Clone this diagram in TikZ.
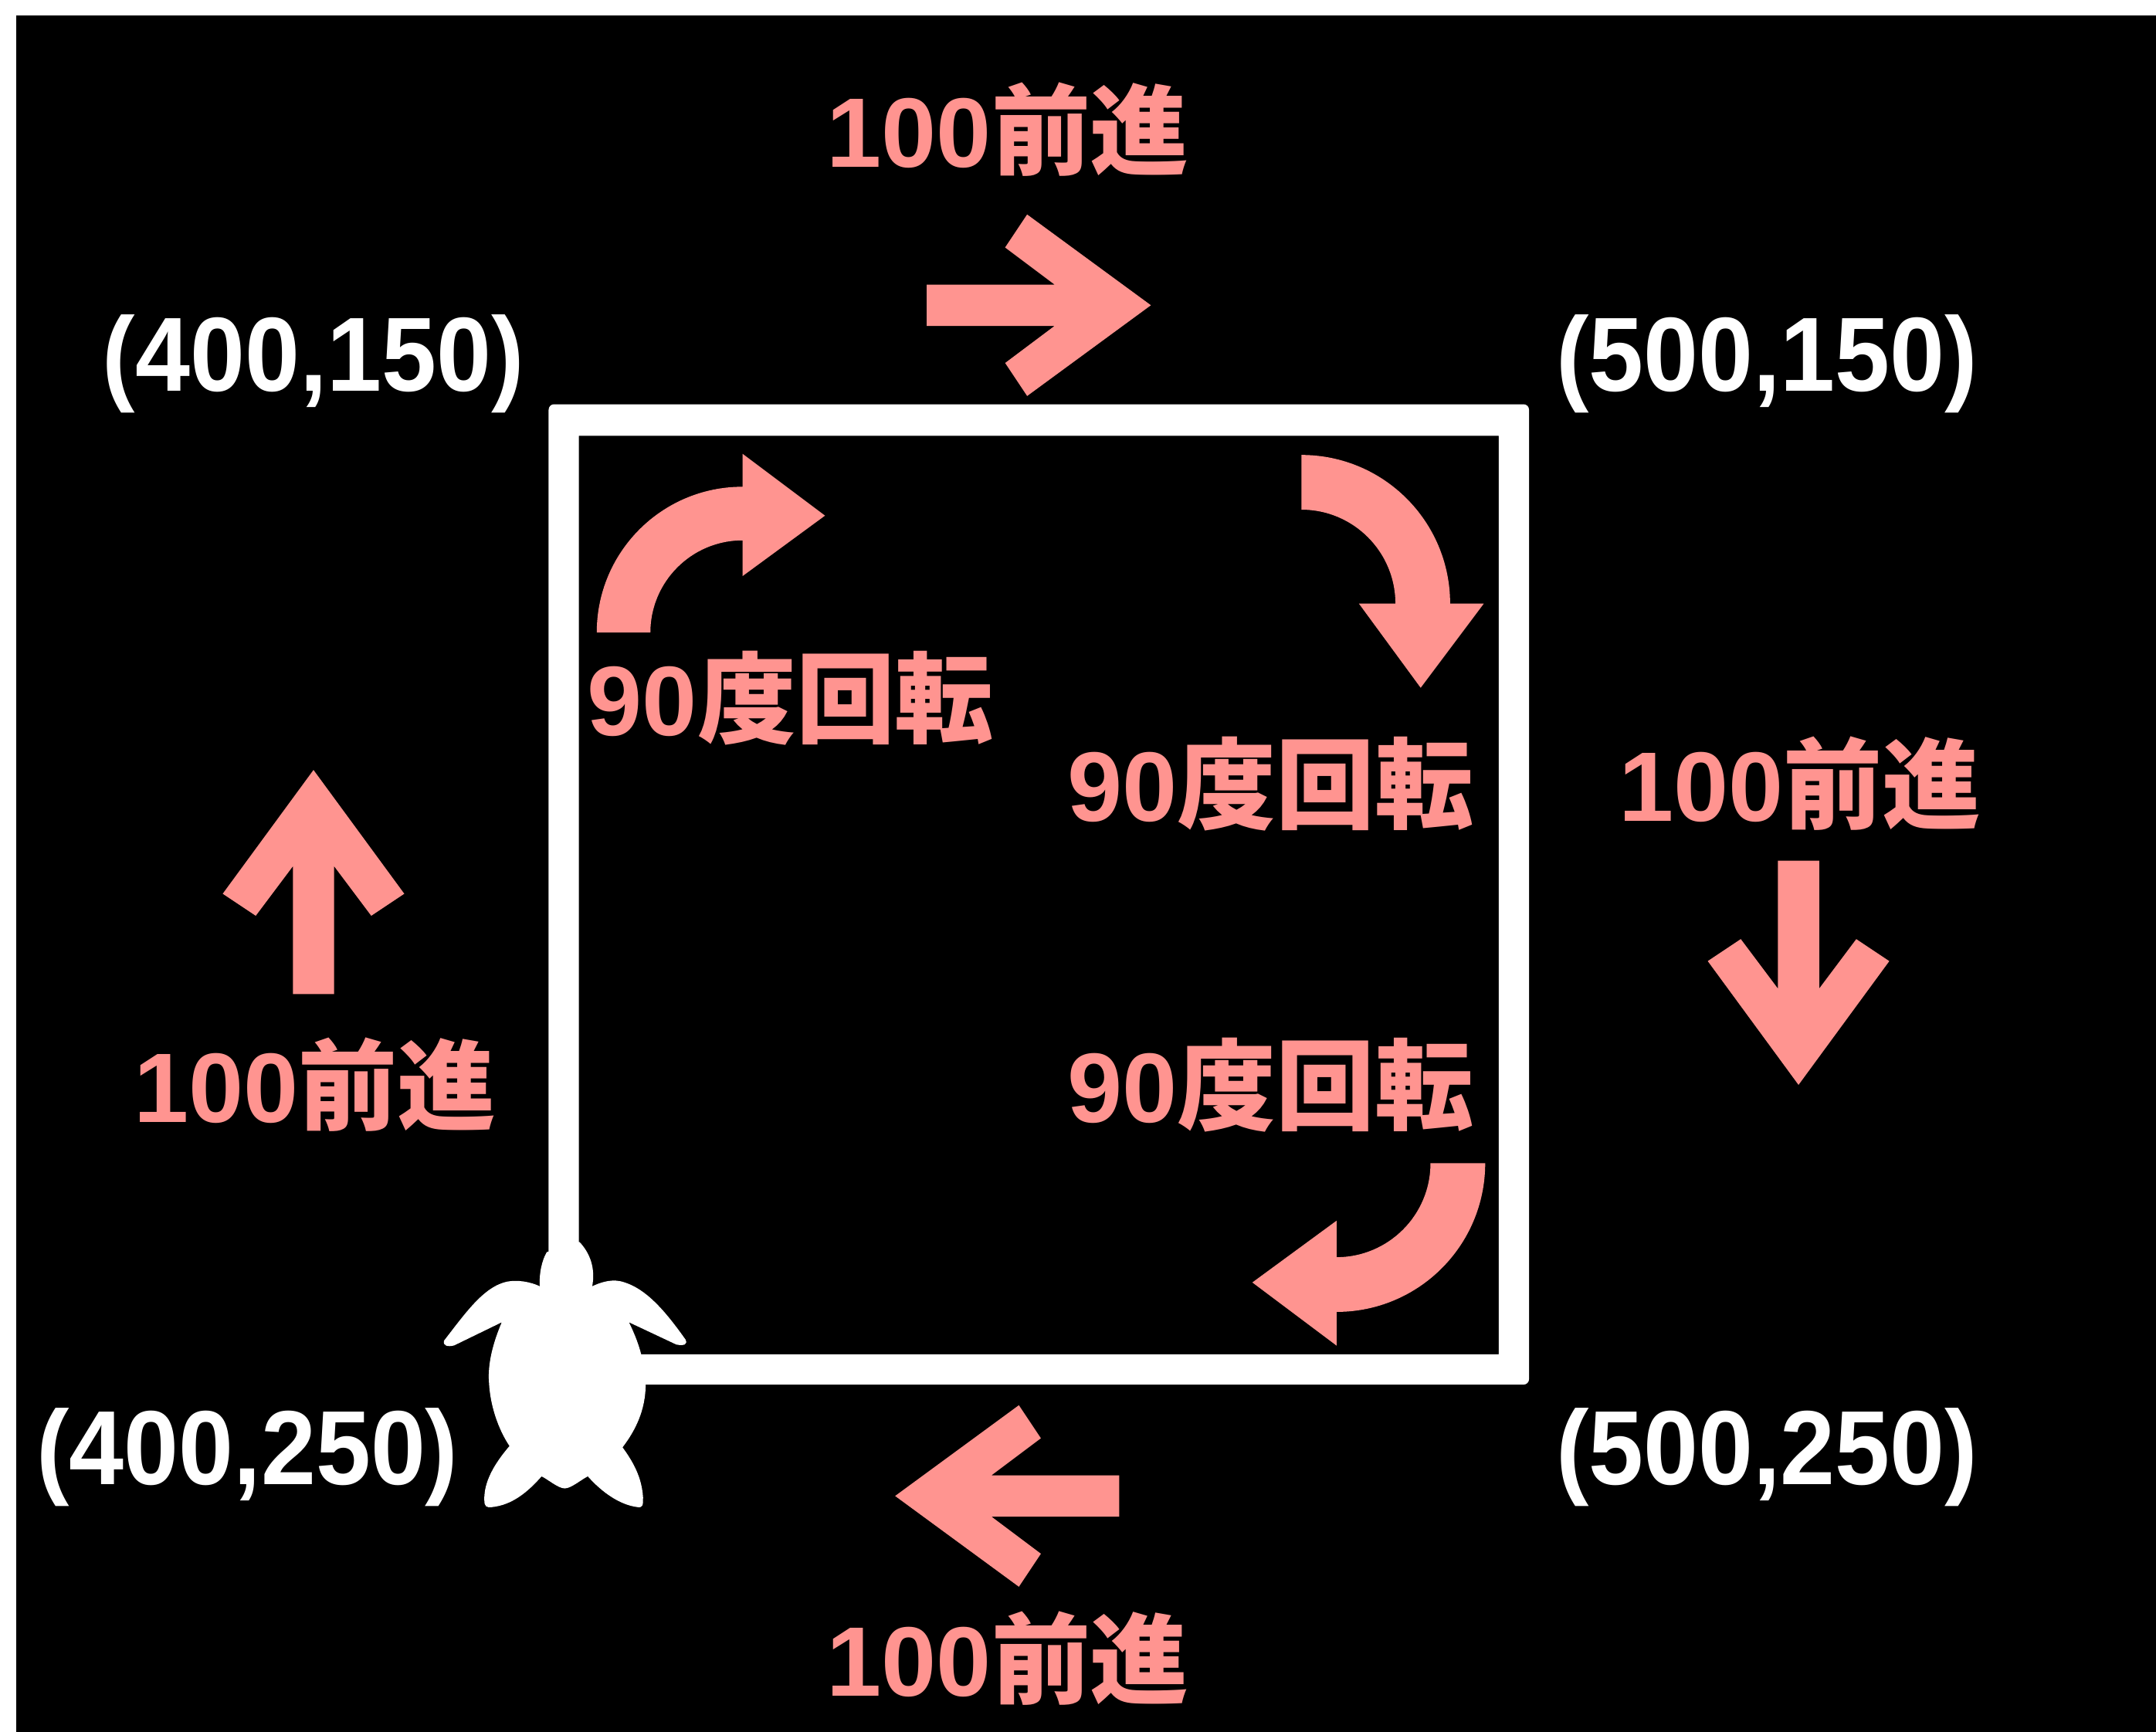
\documentclass[tikz,border=0pt]{standalone}
\usepackage{fontspec}
\setmainfont{Liberation Sans}
\newfontfamily\jpfont{Noto Sans CJK JP Medium}
\definecolor{movepink}{HTML}{FF9490}
\def\pxu{0.017806cm}

\begin{document}
\begin{tikzpicture}[x=\pxu, y=-\pxu,
  coordlabel/.style ={ text = white, font = \fontsize{36.3}{36}\selectfont\bfseries, inner sep = 0pt,
    transform shape, yscale = 1.07},
  movelabel/.style ={ text = movepink, font = \fontsize{36.4}{36}\selectfont\bfseries, inner sep = 0pt},
  moveArrow/.pic ={
    \fill[movepink] (-163,-15) -- (-70,-15) -- (-106,-42) -- (-90,-66) -- (0,0) -- (-90,66)
      -- (-106,42) -- (-70,15) -- (-163,15) -- cycle;},
  turnArrow/.pic ={
    \fill[movepink] (-106,0) arc[start angle=180, end angle=90, radius=106*\pxu]
      -- (0,-130) -- (60,-85) -- (0,-41) -- (0,-67)
      arc[start angle=90, end angle=180, radius=67*\pxu] -- cycle;}]
  \useasboundingbox (0,0) rectangle (1568,1259.15);
  \fill[white] (0,0) rectangle (1568,1259.15);
  \fill[black] (12,11) rectangle (1575,1265);

  % square walked by the turtle
  \coordinate (tlOut) at (399,294);
  \coordinate (brOut) at (1112,1007);
  \coordinate (tlIn) at (421,317);
  \coordinate (brIn) at (1090,985);
  \fill[white, even odd rule] [rounded corners=4*\pxu] (tlOut) rectangle (brOut)
    [sharp corners] (tlIn) rectangle (brIn);

  % turtle
  \begin{scope}[shift={(303.3,876.1)}, x=0.003333cm, y=-0.003333cm]
    \fill[white] (505,185) .. controls (485,220) and (475,270) .. (478,318)
      .. controls (440,300) and (390,292) .. (350,300)
      .. controls (260,320) and (190,420) .. (105,530)
      .. controls (100,550) and (120,555) .. (145,548) -- (330,458)
      .. controls (295,540) and (275,620) .. (280,690)
      .. controls (285,790) and (320,880) .. (360,940)
      .. controls (300,1010) and (260,1080) .. (262,1150)
      .. controls (262,1175) and (270,1180) .. (290,1178)
      .. controls (370,1170) and (430,1120) .. (485,1058)
      .. controls (510,1070) and (550,1105) .. (575,1105)
      .. controls (600,1105) and (640,1070) .. (665,1058)
      .. controls (720,1120) and (790,1170) .. (860,1178)
      .. controls (880,1180) and (880,1170) .. (880,1140)
      .. controls (875,1060) and (840,1000) .. (800,945)
      .. controls (850,880) and (890,800) .. (890,700)
      .. controls (885,600) and (860,530) .. (825,458) -- (1010,545)
      .. controls (1040,550) and (1055,545) .. (1045,525)
      .. controls (970,420) and (890,320) .. (790,298)
      .. controls (750,290) and (710,305) .. (682,318)
      .. controls (695,250) and (675,190) .. (632,145) -- cycle;
  \end{scope}

  \node[coordlabel] (c400a) at (228,264.5) {(400,150)};
  \node[coordlabel] (c500a) at (1285,264.5) {(500,150)};
  \node[coordlabel] (c400b) at (180,1060) {(400,250)};
  \node[coordlabel] (c500b) at (1285,1060) {(500,250)};

  \node[movelabel] (moveT) at (733,94) {100{\jpfont 前進}};
  \node[movelabel] (moveR) at (1309,570) {100{\jpfont 前進}};
  \node[movelabel] (moveL) at (229,789) {100{\jpfont 前進}};
  \node[movelabel] (moveB) at (733,1206) {100{\jpfont 前進}};
  \node[movelabel] (turnA) at (575,508) {90{\jpfont 度回転}};
  \node[movelabel] (turnB) at (924,570) {90{\jpfont 度回転}};
  \node[movelabel] (turnC) at (924,789) {90{\jpfont 度回転}};

  \pic at (837,222) {moveArrow};
  \pic[rotate=-90] at (1308,789) {moveArrow};
  \pic[rotate=90] at (228,560) {moveArrow};
  \pic[rotate=180] at (651,1088) {moveArrow};

  \pic at (540,460) {turnArrow};
  \pic[rotate=-90, scale=1.02] at (946.5,439) {turnArrow};
  \pic[rotate=180, scale=1.02] at (972,846) {turnArrow};
\end{tikzpicture}
\end{document}
